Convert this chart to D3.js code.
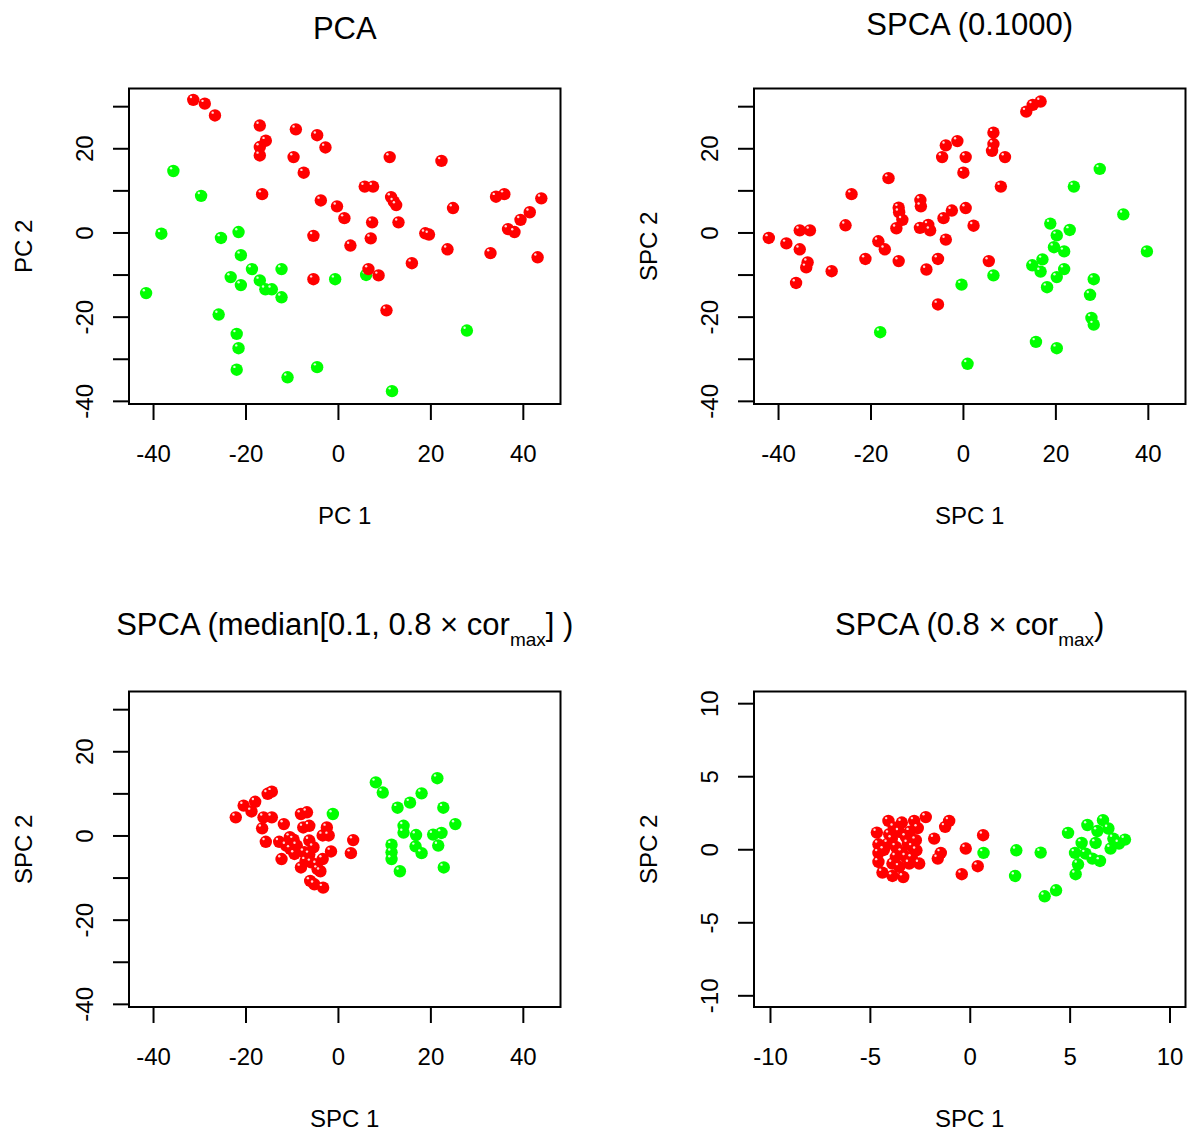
<!DOCTYPE html>
<html><head><meta charset="utf-8">
<script src="https://cdn.jsdelivr.net/npm/d3@7"></script>
<style>
body{margin:0;background:#fff;}
svg text{font-family:"Liberation Sans", Arial, Helvetica, sans-serif; fill:#000;}
</style></head><body>
<svg id="chart" width="1187" height="1133"></svg>
<script>
// ---------- data ----------
const pcaRed = [[-31.3,31.5],[-28.8,30.6],[-26.6,27.8],[-16.9,25.4],[-9.1,24.5],[-4.5,23.1],[-2.7,20.2],[-15.6,21.8],[-16.9,20.3],[-16.9,18.3],[-9.6,17.9],[-7.4,14.2],[-16.4,9.1],[-3.7,7.6],[-0.2,6.2],[1.4,3.4],[-5.3,-0.8],[2.7,-3.1],[-5.3,-11.1],
  [11.2,17.9],[22.4,17.0],[5.8,10.9],[7.6,10.9],[11.5,8.4],[12.1,7.3],[12.6,6.5],[7.4,2.4],[13.1,2.4],[24.9,5.8],[34.2,8.5],[36.0,9.1],[44.0,8.1],[41.5,4.8],[39.5,3.0],[36.8,0.8],[38.2,0.1],[7.1,-1.4],[18.9,-0.2],[19.7,-0.5],[23.7,-4.0],[33.0,-4.9],[43.2,-5.9],[16.0,-7.3],[6.6,-8.7],[8.8,-10.2],[10.5,-18.5]];
const pcaGreen = [[-35.6,14.6],[-29.6,8.7],[-38.2,-0.3],[-25.3,-1.3],[-21.5,0.1],[-21.0,-5.4],[-18.6,-8.7],[-12.2,-8.7],[-23.2,-10.6],[-21.0,-12.5],[-16.9,-11.4],[-15.7,-13.5],[-14.3,-13.5],[-12.2,-15.4],[-41.5,-14.4],[-0.6,-11.1],[-25.8,-19.5],[-21.9,-24.1],[-21.5,-27.5],[-21.9,-32.6],[-10.9,-34.4],[-4.5,-32.0],[6.1,-10.1],[27.9,-23.3],[11.7,-37.7]];

const spcaRed = [[-42.0,-1.3],[-38.2,-2.6],[-35.3,0.5],[-33.1,0.5],[-35.3,-4.0],[-33.6,-7.1],[-33.9,-8.3],[-36.1,-12.0],[-28.4,-9.2],[-25.4,1.7],[-24.1,9.1],[-16.1,12.9],[-21.1,-6.3],[-18.3,-2.1],[-16.9,-4.0],[-13.9,5.9],[-13.8,4.8],[-13.1,3.0],[-14.4,1.0],[-13.9,-6.8],[-9.2,7.7],[-9.1,6.2],[-9.3,1.1],[-7.5,1.8],[-7.1,0.5],[-4.2,3.4],[-2.4,5.2],[0.6,5.8],[-3.7,-1.7],[-7.9,-8.8],[-5.4,-6.3],[-5.4,-17.1],[-3.7,20.7],[-1.2,21.7],[-4.5,17.9],[0.6,17.9],[0.1,14.2],[13.7,28.7],[15.1,30.3],[16.8,31.1],[6.6,23.7],[6.6,21.0],[6.3,19.4],[9.1,17.9],[8.2,10.9],[2.3,1.6],[5.6,-6.8]];
const spcaGreen = [[-0.3,-12.4],[-17.9,-23.7],[1.0,-31.2],[29.6,15.1],[24.0,10.9],[34.7,4.3],[39.8,-4.5],[18.9,2.1],[23.1,0.6],[20.3,-0.7],[19.7,-3.5],[21.9,-4.5],[17.2,-6.4],[15.0,-7.8],[16.8,-9.3],[21.9,-8.7],[20.3,-10.6],[18.2,-13.0],[28.3,-11.1],[27.5,-14.8],[27.8,-20.3],[28.3,-21.9],[15.8,-26.0],[20.3,-27.5],[6.6,-10.2]];

const spcaMedRed = [[-22.1,4.3],[-20.4,7.1],[-18.7,5.7],[-17.9,8.0],[-15.2,9.9],[-14.3,10.4],[-16.1,4.3],[-14.3,4.3],[-16.4,1.7],[-15.6,-1.5],[-11.7,2.7],[-12.7,-1.5],[-12.2,-5.6],[-10.4,-0.4],[-10.3,-3.2],[-8.0,5.1],[-6.7,5.5],[-7.5,1.9],[-6.2,2.3],[-8.9,-2.4],[-6.2,-1.2],[-5.3,-2.8],[-9.4,-4.4],[-8.0,-7.6],[-5.8,-6.4],[-3.3,-5.6],[-2.4,1.9],[-3.3,0.0],[-2.0,0.0],[-1.5,-3.8],[-4.4,-8.0],[-6.0,-10.8],[-5.1,-11.6],[-3.2,-12.4],[3.3,-1.1],[2.8,-4.2],[-6.2,-4.5],[-3.8,-8.5],[-7.3,-4.0],[-11.2,-2.4],[-4.6,-6.9],[-9.6,-1.0],[-7.0,-6.0]];
const spcaMedGreen = [[-1.1,5.1],[8.2,12.6],[9.7,10.2],[12.9,6.6],[15.6,7.8],[18.1,10.0],[21.5,13.6],[22.8,6.6],[25.4,2.7],[14.2,2.3],[14.2,0.7],[16.9,0.1],[20.6,0.2],[22.4,0.6],[21.7,-2.4],[16.8,-2.6],[18.1,-4.2],[11.6,-2.2],[11.6,-4.0],[11.6,-5.6],[13.4,-8.5],[22.9,-7.6]];

const spcaCorRed = [[-4.65,1.14],[-4.07,1.94],[-3.4,1.83],[-2.78,1.94],[-2.2,2.2],[-1.03,1.94],[-1.23,1.53],[-4.03,1.03],[-3.53,1.19],[-2.7,0.62],[-1.78,0.73],[0.67,0.96],[-4.57,0.34],[-4.57,-0.25],[-4.1,0.39],[-3.1,0.39],[-2.87,0.16],[-0.2,0.05],[-1.45,-0.25],[-1.6,-0.64],[-4.57,-0.87],[-3.7,-0.52],[-3.2,-0.52],[-2.53,-0.98],[-4.37,-1.6],[-3.87,-1.83],[-3.33,-1.9],[-3.53,-1.21],[0.4,-1.16],[-0.4,-1.71],[-3.7,0.16],[-3.03,-0.98],[-3.87,-0.98],[-2.67,-0.07],[-3.2,0.84],[-3.8,1.5],[-3.0,1.2],[-4.3,-0.05],[-3.4,-0.2],[-2.9,-0.6],[-3.9,0.7],[-2.6,1.45]];
const spcaCorGreen = [[0.69,-0.25],[2.33,-0.07],[3.55,-0.23],[2.27,-1.83],[3.75,-3.22],[4.32,-2.81],[4.92,1.12],[5.89,1.66],[6.67,1.99],[6.94,1.42],[6.39,1.25],[7.19,0.73],[7.77,0.66],[7.47,0.39],[7.05,0.05],[6.3,0.43],[5.6,0.43],[5.27,-0.25],[5.8,-0.3],[6.14,-0.64],[6.52,-0.8],[5.42,-1.03],[5.3,-1.71]];

const mainXTicks = [-40,-20,0,20,40];
const mainYTicks = [-40,-30,-20,-10,0,10,20,30];
const mainYLabels = [-40,-20,0,20];
const zoomTicks = [-10,-5,0,5,10];
const mainXLim = [-45.2, 48.15];
const mainYLim = [-40.75, 34.2];
const zoomLim = [-10.8, 10.8];

const titles = [
  [{t:"PCA"}],
  [{t:"SPCA (0.1000)"}],
  [{t:"SPCA (median[0.1, 0.8 \u00D7 cor"},{t:"max",sub:true},{t:"] )"}],
  [{t:"SPCA (0.8 \u00D7 cor"},{t:"max",sub:true},{t:")"}]
];
const xLabels = ["PC 1","SPC 1","SPC 1","SPC 1"];
const yLabels = ["PC 2","SPC 2","SPC 2","SPC 2"];

// ---------- layout ----------
const colors = {red:"#FF0000", green:"#00FF00"};
const boxW = 431.5, boxH = 315.5;
const panels = [
  {col:0,row:0,titleDy:-49.2,red:pcaRed,green:pcaGreen,xlim:mainXLim,ylim:mainYLim,xt:mainXTicks,yt:mainYTicks,yl:mainYLabels},
  {col:1,row:0,titleDy:-53.5,red:spcaRed,green:spcaGreen,xlim:mainXLim,ylim:mainYLim,xt:mainXTicks,yt:mainYTicks,yl:mainYLabels},
  {col:0,row:1,titleDy:-56.5,red:spcaMedRed,green:spcaMedGreen,xlim:mainXLim,ylim:mainYLim,xt:mainXTicks,yt:mainYTicks,yl:mainYLabels},
  {col:1,row:1,titleDy:-56.5,red:spcaCorRed,green:spcaCorGreen,xlim:zoomLim,ylim:zoomLim,xt:zoomTicks,yt:zoomTicks,yl:zoomTicks}
];

const svg = d3.select("#chart");
svg.append("rect").attr("width",1187).attr("height",1133).attr("fill","#fff");

panels.forEach((p,i)=>{
  const left = 129 + p.col*625, top = 88.5 + p.row*603;
  const g = svg.append("g").attr("transform",`translate(${left},${top})`);
  const x = d3.scaleLinear().domain(p.xlim).range([0,boxW]);
  const y = d3.scaleLinear().domain(p.ylim).range([boxH,0]);

  // points: green first, then red on top
  [["green",p.green],["red",p.red]].forEach(([c,arr])=>{
    const pg = g.append("g");
    pg.selectAll("circle.pt").data(arr).join("circle").attr("class","pt")
      .attr("cx",d=>x(d[0])).attr("cy",d=>y(d[1])).attr("r",6.2).attr("fill",colors[c]);
    pg.selectAll("circle.hl").data(arr).join("circle").attr("class","hl")
      .attr("cx",d=>x(d[0])-2.3).attr("cy",d=>y(d[1])-2.8).attr("r",1.2)
      .attr("fill","#fff").attr("opacity",0.85);
  });

  // box
  g.append("rect").attr("x",0).attr("y",0).attr("width",boxW).attr("height",boxH)
    .attr("fill","none").attr("stroke","#000").attr("stroke-width",2);

  // x axis
  const xa = g.append("g").attr("transform",`translate(0,${boxH})`)
    .call(d3.axisBottom(x).tickValues(p.xt).tickSize(16).tickSizeOuter(0).tickFormat(d=>String(d)));
  xa.select(".domain").remove();
  xa.selectAll(".tick line").attr("stroke","#000").attr("stroke-width",2);
  xa.selectAll(".tick text").attr("y",57.7).attr("dy",0).attr("font-size",24)
    .attr("fill","#000").style("font-family","'Liberation Sans', Arial, sans-serif");

  // y axis
  const ya = g.append("g")
    .call(d3.axisLeft(y).tickValues(p.yt).tickSize(16).tickSizeOuter(0)
      .tickFormat(d=>p.yl.includes(d)?String(d):""));
  ya.select(".domain").remove();
  ya.selectAll(".tick line").attr("stroke","#000").attr("stroke-width",2);
  ya.selectAll(".tick text").attr("x",0).attr("y",-35.7).attr("dy",0)
    .attr("transform","rotate(-90)").attr("text-anchor","middle").attr("font-size",24)
    .attr("fill","#000").style("font-family","'Liberation Sans', Arial, sans-serif");

  // axis labels
  g.append("text").attr("x",boxW/2).attr("y",boxH+120).attr("text-anchor","middle")
    .attr("font-size",24).text(xLabels[i]);
  g.append("text").attr("transform",`translate(-97.5,${boxH/2}) rotate(-90)`)
    .attr("text-anchor","middle").attr("font-size",24).text(yLabels[i]);

  // title
  const tt = g.append("text").attr("x",boxW/2).attr("y",p.titleDy)
    .attr("text-anchor","middle").attr("font-size",31);
  let shifted = false;
  titles[i].forEach(seg=>{
    const ts = tt.append("tspan").text(seg.t);
    if(seg.sub){ ts.attr("font-size",19).attr("dy",10.5); shifted = true; }
    else if(shifted){ ts.attr("dy",-10.5); shifted = false; }
  });
});
</script>
</body></html>
